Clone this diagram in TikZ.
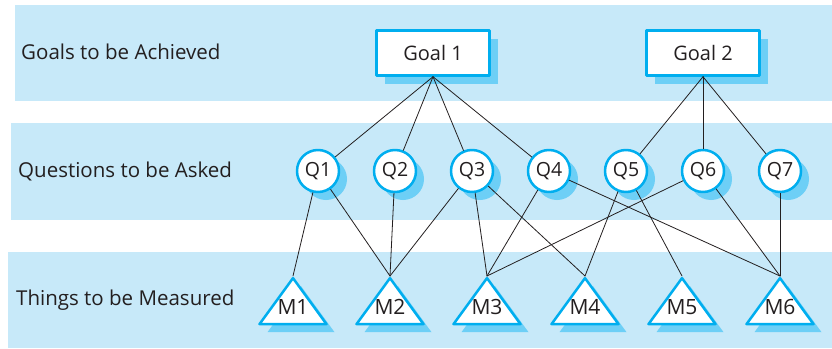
\documentclass[tikz,border=0pt]{standalone}
\usepackage{fontspec}
\setmainfont{Open Sans}
\usetikzlibrary{shapes.geometric,shadows}
\definecolor{bandblue}{HTML}{C7E9F9}
\definecolor{edgeblue}{HTML}{00AEEF}
\definecolor{dropcol}{HTML}{6DCFF6}
\definecolor{inkgray}{HTML}{231F20}
\begin{document}
\begin{tikzpicture}[x=1pt,y=-1pt,line cap=round,line join=round,every node/.style={inner sep=1pt},
  bandrow/.style={fill=bandblue},
  rowtext/.style={anchor=west,text=inkgray,font=\fontsize{20.5}{24}\selectfont},
  dropblue/.style={drop shadow={shadow xshift=8pt,shadow yshift=-8pt,fill=dropcol,opacity=1}},
  goalbox/.style={rectangle,draw=edgeblue,line width=2.5pt,fill=white,minimum width=113pt,minimum height=45pt,dropblue,text=inkgray,font=\fontsize{20}{23}\selectfont},
  qnode/.style={circle,draw=edgeblue,line width=2.5pt,fill=white,minimum size=42pt,inner sep=0pt,dropblue,text=inkgray,font=\fontsize{19.5}{22}\selectfont},
  mnode/.style={isosceles triangle,shape border rotate=90,isosceles triangle apex angle=72,isosceles triangle stretches,minimum width=67pt,minimum height=46pt,inner sep=0pt,anchor=apex,draw=edgeblue,line width=2.5pt,fill=white,dropblue},
  mtext/.style={text=inkgray,font=\fontsize{21}{24}\selectfont},
  link/.style={line width=0.8pt,draw=inkgray}]
  \useasboundingbox (0,0) rectangle (832,348);
  % rows
  \fill[bandrow] (15,5) rectangle (832,101);
  \fill[bandrow] (11,123) rectangle (832,220);
  \fill[bandrow] (8,252) rectangle (832,348);
  \node[rowtext] (goalrow) at (20,52) {Goals to be Achieved};
  \node[rowtext] (questrow) at (17,171) {Questions to be Asked};
  \node[rowtext] (thingrow) at (15,300) {Things to be Measured};
  % goals
  \node[goalbox] (G1) at (433,53) {Goal 1};
  \node[goalbox] (G2) at (703,53) {Goal 2};
  % questions
  \foreach \i/\x in {1/318,2/395,3/472,4/549,5/626,6/703,7/780}
    \node[qnode] (Q\i) at (\x,171) {Q\i};
  % metrics
  \foreach \i/\x in {1/293,2/390,3/487,4/585,5/682,6/780} {
    \node[mnode] (M\i) at (\x,276) {};
    \node[mtext] (ML\i) at (\x,307) {M\i};
  }
  % links
  \foreach \q in {1,...,4}
    \draw[link] (G1.south) -- (Q\q);
  \foreach \q in {5,6,7}
    \draw[link] (G2.south) -- (Q\q);
  \foreach \q/\m in {1/1,1/2,2/2,3/2,3/3,3/4,4/3,4/6,5/4,5/5,6/3,6/6,7/6}
    \draw[link] (Q\q) -- (M\m.apex);
\end{tikzpicture}
\end{document}
